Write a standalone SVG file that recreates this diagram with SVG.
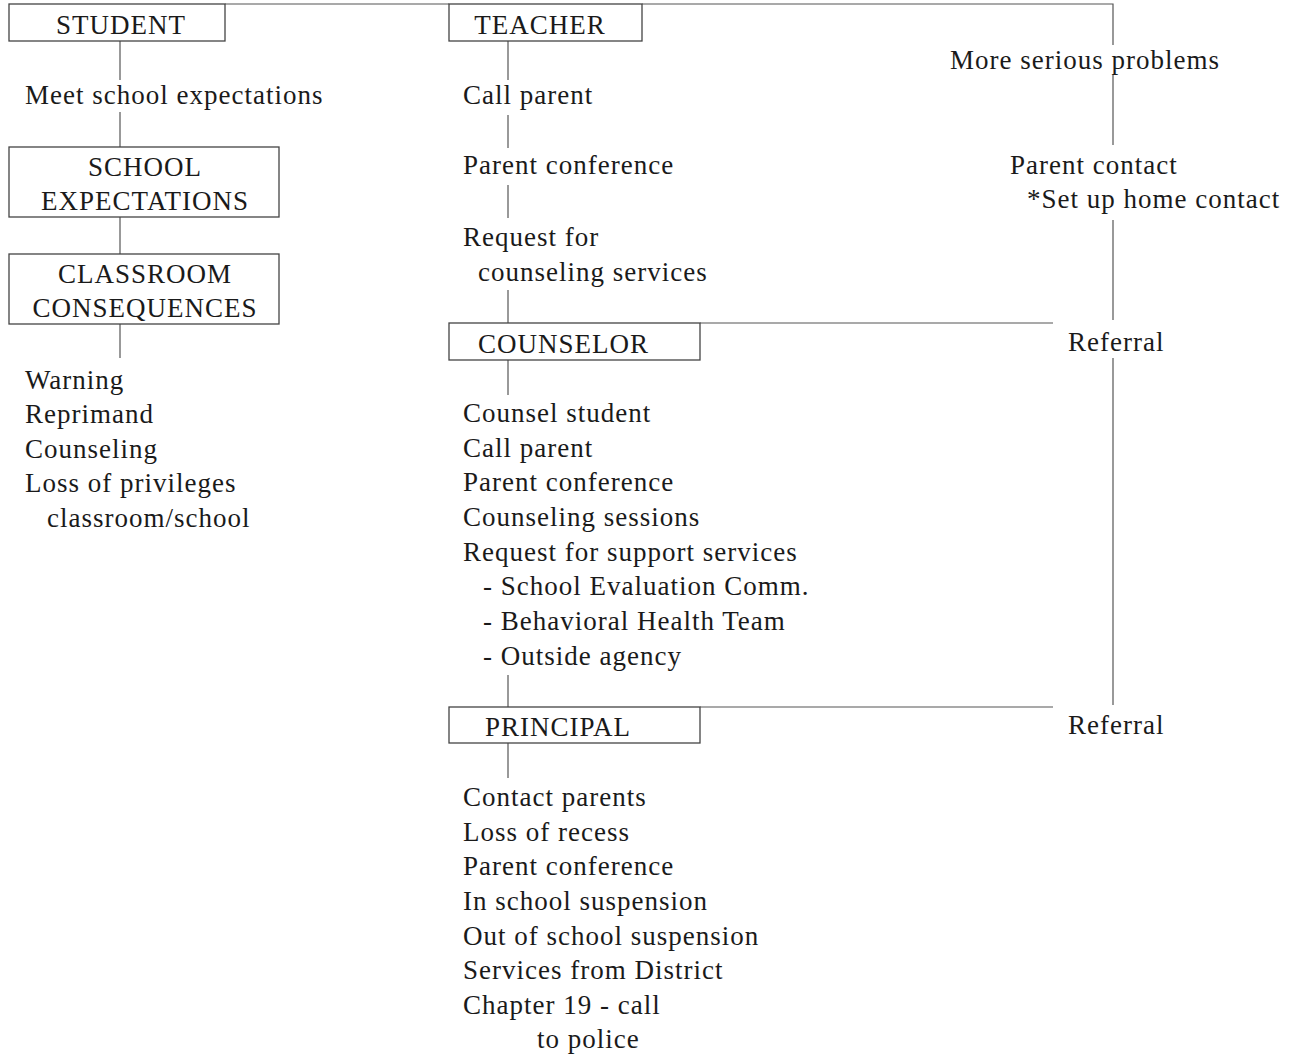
<svg xmlns="http://www.w3.org/2000/svg" width="1292" height="1057" viewBox="0 0 1292 1057">
<style>
text{font-family:"Liberation Serif","Times New Roman",serif;font-size:27px;letter-spacing:1px;fill:#1a1a1a}
.box{fill:none;stroke:#444;stroke-width:1.3}
.c{text-anchor:middle}
#connectors line,#connectors polyline{stroke:#555;stroke-width:1.2;fill:none}
</style>
<rect width="1292" height="1057" fill="#fff"/>
<g id="connectors">
<polyline points="225,4 449,4"/>
<polyline points="642,4 1113,4 1113,45"/>
<line x1="1113" y1="75" x2="1113" y2="145"/>
<line x1="1113" y1="220" x2="1113" y2="320"/>
<line x1="1113" y1="358" x2="1113" y2="705"/>
<line x1="120" y1="41" x2="120" y2="80"/>
<line x1="120" y1="112" x2="120" y2="147"/>
<line x1="120" y1="217" x2="120" y2="254"/>
<line x1="120" y1="324" x2="120" y2="358"/>
<line x1="508" y1="41" x2="508" y2="80"/>
<line x1="508" y1="115" x2="508" y2="148"/>
<line x1="508" y1="185" x2="508" y2="218"/>
<line x1="508" y1="290" x2="508" y2="323"/>
<line x1="700" y1="323" x2="1053" y2="323"/>
<line x1="508" y1="360" x2="508" y2="395"/>
<line x1="508" y1="675" x2="508" y2="707"/>
<line x1="700" y1="707" x2="1053" y2="707"/>
<line x1="508" y1="743" x2="508" y2="778"/>
</g>
<g id="student">
<rect class="box" x="9" y="4" width="216" height="37"/>
<text x="121" y="34" class="c">STUDENT</text>
</g>
<g id="meet"><text x="25" y="104">Meet school expectations</text></g>
<g id="school-expectations">
<rect class="box" x="9" y="147" width="270" height="70"/>
<text x="145" y="176" class="c">SCHOOL</text>
<text x="145" y="210" class="c">EXPECTATIONS</text>
</g>
<g id="classroom-consequences">
<rect class="box" x="9" y="254" width="270" height="70"/>
<text x="145" y="283" class="c">CLASSROOM</text>
<text x="145" y="317" class="c">CONSEQUENCES</text>
</g>
<g id="consequences-list">
<text x="25" y="389">Warning</text>
<text x="25" y="423">Reprimand</text>
<text x="25" y="458">Counseling</text>
<text x="25" y="492">Loss of privileges</text>
<text x="47" y="527">classroom/school</text>
</g>
<g id="teacher">
<rect class="box" x="449" y="4" width="193" height="37"/>
<text x="540" y="34" class="c">TEACHER</text>
</g>
<g id="call-parent"><text x="463" y="104">Call parent</text></g>
<g id="parent-conference"><text x="463" y="174">Parent conference</text></g>
<g id="request-counseling">
<text x="463" y="246">Request for</text>
<text x="478" y="281">counseling services</text>
</g>
<g id="counselor">
<rect class="box" x="449" y="323" width="251" height="37"/>
<text x="478" y="353">COUNSELOR</text>
</g>
<g id="counselor-list">
<text x="463" y="422">Counsel student</text>
<text x="463" y="457">Call parent</text>
<text x="463" y="491">Parent conference</text>
<text x="463" y="526">Counseling sessions</text>
<text x="463" y="561">Request for support services</text>
<text x="483" y="595">- School Evaluation Comm.</text>
<text x="483" y="630">- Behavioral Health Team</text>
<text x="483" y="665">- Outside agency</text>
</g>
<g id="principal">
<rect class="box" x="449" y="707" width="251" height="36"/>
<text x="485" y="736">PRINCIPAL</text>
</g>
<g id="principal-list">
<text x="463" y="806">Contact parents</text>
<text x="463" y="841">Loss of recess</text>
<text x="463" y="875">Parent conference</text>
<text x="463" y="910">In school suspension</text>
<text x="463" y="945">Out of school suspension</text>
<text x="463" y="979">Services from District</text>
<text x="463" y="1014">Chapter 19 - call</text>
<text x="537" y="1048">to police</text>
</g>
<g id="serious"><text x="950" y="69">More serious problems</text></g>
<g id="parent-contact">
<text x="1010" y="174">Parent contact</text>
<text x="1027" y="208">*Set up home contact</text>
</g>
<g id="referral-1"><text x="1068" y="351">Referral</text></g>
<g id="referral-2"><text x="1068" y="734">Referral</text></g>
</svg>
